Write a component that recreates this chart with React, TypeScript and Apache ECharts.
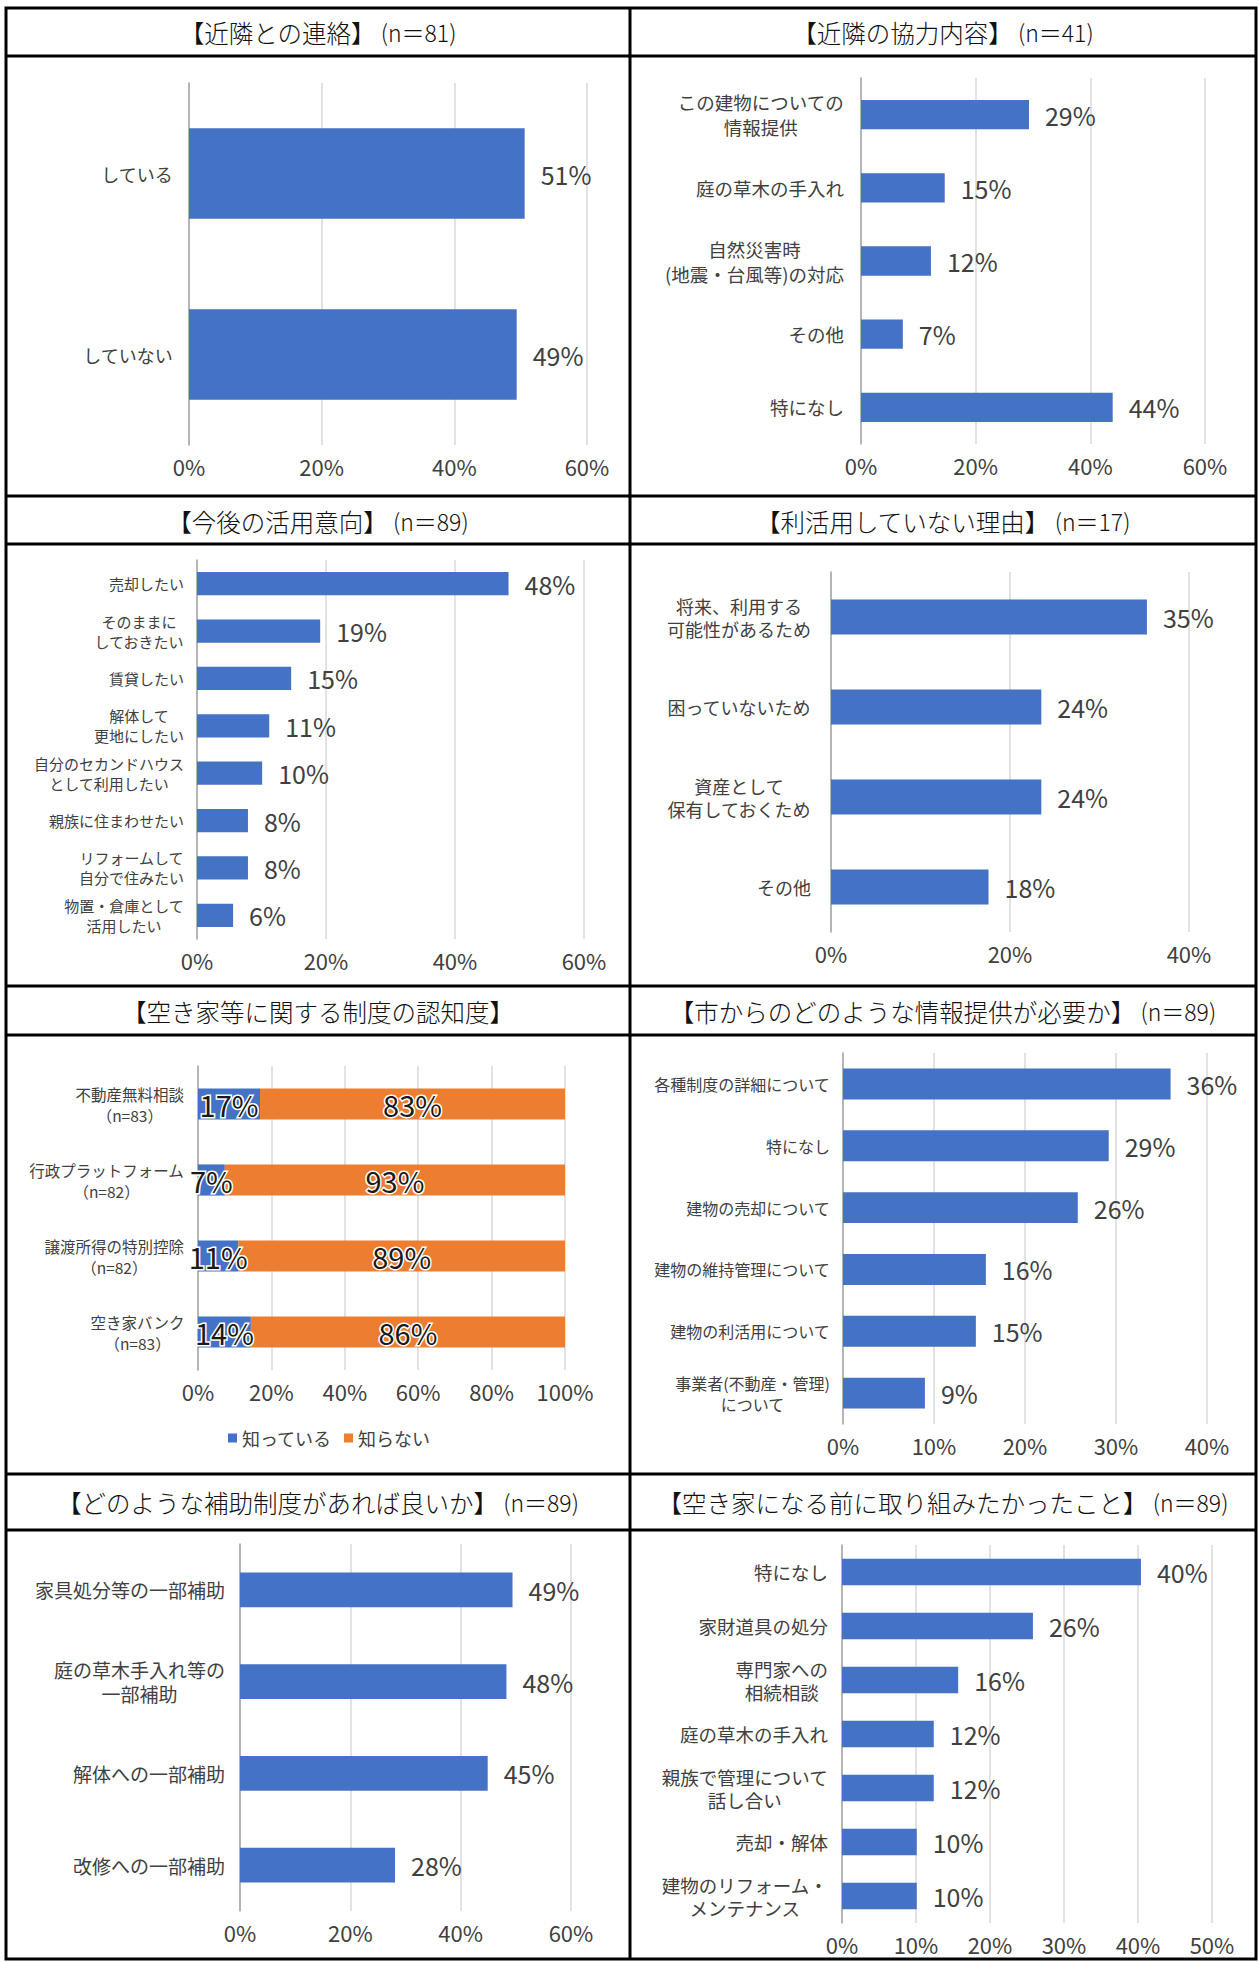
import React, { useEffect, useRef } from "react";
import * as echarts from "echarts";

const FONT = '"Noto Sans CJK JP", "Noto Sans", sans-serif';
const BLUE = "#4472C4";
const ORANGE = "#ED7D31";
const TXT = "#404040";

// ---------------- data ----------------
const contactCategories = ["している", "していない"];
const contactValues = [50.6, 49.4];

const cooperationCategories = [
  "この建物についての\n情報提供",
  "庭の草木の手入れ",
  "自然災害時\n(地震・台風等)の対応",
  "その他",
  "特になし",
];
const cooperationValues = [29.3, 14.6, 12.2, 7.3, 43.9];

const intentionCategories = [
  "売却したい",
  "そのままに\nしておきたい",
  "賃貸したい",
  "解体して\n更地にしたい",
  "自分のセカンドハウス\nとして利用したい",
  "親族に住まわせたい",
  "リフォームして\n自分で住みたい",
  "物置・倉庫として\n活用したい",
];
const intentionValues = [48.3, 19.1, 14.6, 11.2, 10.1, 7.9, 7.9, 5.6];

const reasonCategories = [
  "将来、利用する\n可能性があるため",
  "困っていないため",
  "資産として\n保有しておくため",
  "その他",
];
const reasonValues = [35.3, 23.5, 23.5, 17.6];

const awarenessCategories = [
  "不動産無料相談\n（n=83）",
  "行政プラットフォーム\n（n=82）",
  "譲渡所得の特別控除\n（n=82）",
  "空き家バンク\n（n=83）",
];
const awarenessKnow = [16.9, 7.3, 11.0, 14.4];
const awarenessNotKnow = [83.1, 92.7, 89.0, 85.6];
const awarenessLegend = ["知っている", "知らない"];

const infoCategories = [
  "各種制度の詳細について",
  "特になし",
  "建物の売却について",
  "建物の維持管理について",
  "建物の利活用について",
  "事業者(不動産・管理)\nについて",
];
const infoValues = [36.0, 29.2, 25.8, 15.7, 14.6, 9.0];

const subsidyCategories = [
  "家具処分等の一部補助",
  "庭の草木手入れ等の\n一部補助",
  "解体への一部補助",
  "改修への一部補助",
];
const subsidyValues = [49.4, 48.3, 44.9, 28.1];

const wishCategories = [
  "特になし",
  "家財道具の処分",
  "専門家への\n相続相談",
  "庭の草木の手入れ",
  "親族で管理について\n話し合い",
  "売却・解体",
  "建物のリフォーム・\nメンテナンス",
];
const wishValues = [40.4, 25.8, 15.7, 12.4, 12.4, 10.1, 10.1];

const titles = [
  ["【近隣との連絡】", " (n＝81)"],
  ["【近隣の協力内容】", " (n＝41)"],
  ["【今後の活用意向】", " (n＝89)"],
  ["【利活用していない理由】", " (n＝17)"],
  ["【空き家等に関する制度の認知度】", ""],
  ["【市からのどのような情報提供が必要か】", " (n＝89)"],
  ["【どのような補助制度があれば良いか】", " (n＝89)"],
  ["【空き家になる前に取り組みたかったこと】", " (n＝89)"],
];

// ---------------- layout ----------------
type Panel = {
  cats: string[];
  values: number[][];
  max: number;
  interval: number;
  grid: { left: number; top: number; width: number; height: number };
  catFont: number;
  catLine: number;
  catMargin: number;
  barWidth: string;
  stacked?: boolean;
};

const panels: Panel[] = [
  { cats: contactCategories, values: [contactValues], max: 60, interval: 20,
    grid: { left: 189, top: 83, width: 398, height: 362 }, catFont: 18, catLine: 24, catMargin: 16, barWidth: "50%" },
  { cats: cooperationCategories, values: [cooperationValues], max: 60, interval: 20,
    grid: { left: 861, top: 78, width: 344, height: 366 }, catFont: 18.5, catLine: 25, catMargin: 17, barWidth: "40%" },
  { cats: intentionCategories, values: [intentionValues], max: 60, interval: 20,
    grid: { left: 197, top: 560, width: 387, height: 379 }, catFont: 15, catLine: 20, catMargin: 13, barWidth: "49%" },
  { cats: reasonCategories, values: [reasonValues], max: 40, interval: 20,
    grid: { left: 831, top: 572, width: 358, height: 360 }, catFont: 18, catLine: 23, catMargin: 20, barWidth: "39%" },
  { cats: awarenessCategories, values: [awarenessKnow, awarenessNotKnow], max: 100, interval: 20,
    grid: { left: 198, top: 1066, width: 367, height: 304 }, catFont: 15.5, catLine: 21, catMargin: 14, barWidth: "41%", stacked: true },
  { cats: infoCategories, values: [infoValues], max: 40, interval: 10,
    grid: { left: 843, top: 1053, width: 364, height: 371 }, catFont: 16, catLine: 21, catMargin: 13, barWidth: "50%" },
  { cats: subsidyCategories, values: [subsidyValues], max: 60, interval: 20,
    grid: { left: 240, top: 1544, width: 331, height: 367 }, catFont: 19, catLine: 24, catMargin: 15, barWidth: "38%" },
  { cats: wishCategories, values: [wishValues], max: 50, interval: 10,
    grid: { left: 842, top: 1545, width: 370, height: 378 }, catFont: 18.5, catLine: 23, catMargin: 14, barWidth: "49%" },
];

const titleCenters = [
  [318, 32], [943, 32],
  [318, 521], [943, 521],
  [318, 1011], [943, 1011],
  [318, 1502], [943, 1502],
];
const hLines = [56, 496, 544, 986, 1035, 1474, 1530];

function buildOption() {
  const grid: any[] = [];
  const xAxis: any[] = [];
  const yAxis: any[] = [];
  const series: any[] = [];

  panels.forEach((p, i) => {
    grid.push({ ...p.grid, containLabel: false });
    xAxis.push({
      gridIndex: i,
      type: "value",
      min: 0,
      max: p.max,
      interval: p.interval,
      axisLine: { show: false },
      axisTick: { show: false },
      splitLine: { show: true, lineStyle: { color: "#d9d9d9", width: 1.5 } },
      axisLabel: {
        formatter: "{value}%",
        fontSize: 22,
        color: TXT,
        fontFamily: FONT,
        margin: 10,
      },
    });
    yAxis.push({
      gridIndex: i,
      type: "category",
      inverse: true,
      data: p.cats,
      axisTick: { show: false },
      axisLine: { show: true, lineStyle: { color: "#a6a6a6", width: 1.5 } },
      axisLabel: {
        margin: p.catMargin,
        fontSize: p.catFont,
        lineHeight: p.catLine,
        color: TXT,
        fontFamily: FONT,
        formatter: (v: string) =>
          v.split("\n").map((l) => `{c|${l}}`).join("\n"),
        rich: {
          c: {
            fontSize: p.catFont,
            lineHeight: p.catLine,
            align: "center",
            color: TXT,
            fontFamily: FONT,
          },
        },
      },
    });
    if (p.stacked) {
      p.values.forEach((vals, k) => {
        series.push({
          type: "bar",
          name: awarenessLegend[k],
          xAxisIndex: i,
          yAxisIndex: i,
          stack: "aw",
          data: vals,
          barWidth: p.barWidth,
          itemStyle: { color: k === 0 ? BLUE : ORANGE },
          label: {
            show: true,
            position: "inside",
            fontSize: 29,
            fontFamily: FONT,
            color: "#1a1a1a",
            textBorderColor: "#ffffff",
            textBorderWidth: 3,
            formatter: (q: any) => `${Math.round(q.value)}%`,
          },
        });
      });
    } else {
      series.push({
        type: "bar",
        name: "s" + i,
        xAxisIndex: i,
        yAxisIndex: i,
        data: p.values[0],
        barWidth: p.barWidth,
        itemStyle: { color: BLUE },
        label: {
          show: true,
          position: "right",
          distance: 16,
          fontSize: 25,
          fontFamily: FONT,
          color: TXT,
          formatter: (q: any) => `${Math.round(q.value)}%`,
        },
      });
    }
  });

  const graphic: any[] = [];
  graphic.push({
    type: "rect",
    shape: { x: 6, y: 8, width: 1250, height: 1951 },
    style: { fill: "none", stroke: "#000", lineWidth: 3 },
    silent: true,
  });
  graphic.push({
    type: "line",
    shape: { x1: 630, y1: 8, x2: 630, y2: 1959 },
    style: { stroke: "#000", lineWidth: 3 },
    silent: true,
  });
  hLines.forEach((y) =>
    graphic.push({
      type: "line",
      shape: { x1: 6, y1: y, x2: 1256, y2: y },
      style: { stroke: "#000", lineWidth: 3 },
      silent: true,
    })
  );
  titles.forEach((t, i) => {
    const [cx, cy] = titleCenters[i];
    graphic.push({
      type: "text",
      x: cx,
      y: cy,
      style: {
        text: t[1] ? `{a|${t[0]}}{b|${t[1]}}` : `{a|${t[0]}}`,
        align: "center",
        verticalAlign: "middle",
        fontWeight: 300,
        fontFamily: FONT,
        fill: "#111",
        rich: {
          a: { fontSize: 24.5, fontFamily: FONT, fontWeight: 300, fill: "#111" },
          b: { fontSize: 23, fontFamily: FONT, fontWeight: 300, fill: "#111" },
        },
      },
      silent: true,
    });
  });

  return {
    animation: false,
    backgroundColor: "#ffffff",
    textStyle: { fontFamily: FONT },
    grid,
    xAxis,
    yAxis,
    series,
    legend: {
      data: awarenessLegend,
      left: 228,
      top: 1429,
      padding: 0,
      itemWidth: 9,
      itemHeight: 9,
      icon: "rect",
      itemGap: 12,
      textStyle: { fontSize: 18, color: TXT, fontFamily: FONT },
    },
    graphic,
  };
}

export default function App() {
  const ref = useRef<HTMLDivElement>(null);
  useEffect(() => {
    document.body.style.margin = "0";
    if (!ref.current) return;
    const chart = echarts.init(ref.current, undefined, { renderer: "svg" });
    chart.setOption(buildOption() as any);
    return () => chart.dispose();
  }, []);
  return (
    <div
      ref={ref}
      style={{ position: "absolute", left: 0, top: 0, width: 1258, height: 1962, background: "#fff" }}
    />
  );
}
